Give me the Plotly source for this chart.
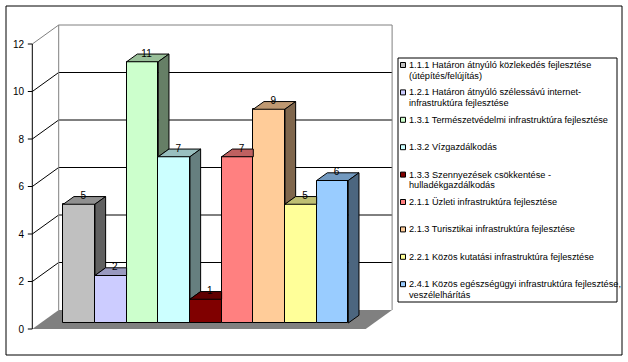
import plotly.graph_objects as go

# ---------------- data ----------------
categories = [
    ["1.1.1 Határon átnyúló közlekedés fejlesztése", "(útépítés/felújítás)"],
    ["1.2.1 Határon átnyúló szélessávú internet-", "infrastruktúra fejlesztése"],
    ["1.3.1 Természetvédelmi infrastruktúra fejlesztése"],
    ["1.3.2 Vízgazdálkodás"],
    ["1.3.3 Szennyezések csökkentése -", "hulladékgazdálkodás"],
    ["2.1.1 Üzleti infrastruktúra fejlesztése"],
    ["2.1.3 Turisztikai infrastruktúra fejlesztése"],
    ["2.2.1 Közös kutatási infrastruktúra fejlesztése"],
    ["2.4.1 Közös egészségügyi infrastruktúra fejlesztése,", "veszélelhárítás"],
]
values = [5, 2, 11, 7, 1, 7, 9, 5, 6]
colors = ["#C0C0C0", "#CCCCFF", "#CCFFCC", "#CCFFFF", "#800000",
          "#FF8080", "#FFCC99", "#FFFF99", "#99CCFF"]
y_ticks = [0, 2, 4, 6, 8, 10, 12]

# ---------------- geometry (pixels) ----------------
FIG_W, FIG_H = 628, 362
ML, MR, MT, MB = 26, 234, 20, 29
PW, PH = FIG_W - ML - MR, FIG_H - MT - MB
PX_X, PX_Y = 31.67, 23.75          # px per bar slot, px per value unit
X0_PX, Y0_PX = 79.1, 323.0         # screen position of bar 0 centre / value 0
DX, DY = 26.4 / PX_X, 19.0 / PX_Y  # oblique projection of unit depth
FRONT_D, BAR_D, BACK_D = -0.316, 0.405, 0.684
FLOOR_X = (32.3 - X0_PX) / PX_X - FRONT_D * DX
FLOOR_W = (365.7 - 32.3) / PX_X

xr = [(ML - X0_PX) / PX_X, (ML + PW - X0_PX) / PX_X]
yr = [(Y0_PX - (MT + PH)) / PX_Y, (Y0_PX - MT) / PX_Y]


def P(x, y, d):
    return (x + d * DX, y + d * DY)


def shade(hx, f):
    r, g, b = int(hx[1:3], 16), int(hx[3:5], 16), int(hx[5:7], 16)
    return "rgb(%d,%d,%d)" % (r * f, g * f, b * f)


def px2paper(px, py):
    return (px - ML) / PW, (MT + PH - py) / PH


fig = go.Figure()
shapes = []


def seg(a, b, color, width=1, layer="below"):
    shapes.append(dict(type="line", xref="x", yref="y", x0=a[0], y0=a[1], x1=b[0], y1=b[1],
                       line=dict(color=color, width=width), layer=layer))


def poly(pts, fill, line=None, layer="below"):
    path = "M" + " L".join("%f,%f" % p for p in pts) + " Z"
    shapes.append(dict(type="path", xref="x", yref="y", path=path, fillcolor=fill,
                       line=dict(color=line or fill, width=1 if line else 0), layer=layer))


top_v = y_ticks[-1]
# back wall
poly([P(FLOOR_X, 0, BACK_D), P(FLOOR_X + FLOOR_W, 0, BACK_D),
      P(FLOOR_X + FLOOR_W, top_v, BACK_D), P(FLOOR_X, top_v, BACK_D)], "white")
for v in y_ticks[1:-1]:
    seg(P(FLOOR_X, v, BACK_D), P(FLOOR_X + FLOOR_W, v, BACK_D), "black")
    seg(P(FLOOR_X, v, FRONT_D), P(FLOOR_X, v, BACK_D), "black")
seg(P(FLOOR_X, top_v, FRONT_D), P(FLOOR_X, top_v, BACK_D), "#808080")
seg(P(FLOOR_X, 0, BACK_D), P(FLOOR_X, top_v, BACK_D), "#808080")
seg(P(FLOOR_X, top_v, BACK_D), P(FLOOR_X + FLOOR_W, top_v, BACK_D), "#808080")
seg(P(FLOOR_X + FLOOR_W, top_v, BACK_D), P(FLOOR_X + FLOOR_W, 0, BACK_D), "#808080")
# floor
poly([P(FLOOR_X, 0, FRONT_D), P(FLOOR_X + FLOOR_W, 0, FRONT_D),
      P(FLOOR_X + FLOOR_W, 0, BACK_D), P(FLOOR_X, 0, BACK_D)], "#808080")
# front value axis with tick marks
seg(P(FLOOR_X, 0, FRONT_D), P(FLOOR_X, top_v, FRONT_D), "black")
for v in y_ticks:
    a = P(FLOOR_X, v, FRONT_D)
    seg((a[0] - 4.5 / PX_X, a[1]), a, "black")

# bars (front faces)
fig.add_trace(go.Bar(
    x=list(range(len(values))), y=values, width=1,
    marker=dict(color=colors, line=dict(color="black", width=1)),
    showlegend=False, hoverinfo="skip"))

# tops and sides
n = len(values)
for i, v in enumerate(values):
    nxt = values[i + 1] if i + 1 < n else 0
    a = i + 0.5
    if nxt > v:
        tp = [P(i - 0.5, v, 0), P(a, v, 0), (a, v + BAR_D * DY), P(i - 0.5, v, BAR_D)]
    else:
        tp = [P(i - 0.5, v, 0), P(a, v, 0), P(a, v, BAR_D), P(i - 0.5, v, BAR_D)]
    fig.add_trace(go.Scatter(x=[p[0] for p in tp] + [tp[0][0]], y=[p[1] for p in tp] + [tp[0][1]],
                             mode="lines", fill="toself", fillcolor=shade(colors[i], 0.75),
                             line=dict(color="black", width=1), showlegend=False, hoverinfo="skip"))
    if v > nxt:
        lo = nxt
        sp = [P(a, lo, 0), P(a, lo, BAR_D), P(a, v, BAR_D), P(a, v, 0)]
        fig.add_trace(go.Scatter(x=[p[0] for p in sp] + [sp[0][0]], y=[p[1] for p in sp] + [sp[0][1]],
                                 mode="lines", fill="toself", fillcolor=shade(colors[i], 0.5),
                                 line=dict(color="black", width=1), showlegend=False, hoverinfo="skip"))

# value labels
fig.add_trace(go.Scatter(
    x=[i + 0.13 for i in range(n)], y=[v + BAR_D * DY for v in values],
    mode="text", text=[str(v) for v in values], textposition="middle center",
    textfont=dict(family="Liberation Sans, Arial", size=10, color="black"),
    showlegend=False, hoverinfo="skip", cliponaxis=False))

# outer border
bx0, by0 = px2paper(6, 355)
bx1, by1 = px2paper(622, 6)
shapes.append(dict(type="rect", xref="paper", yref="paper", x0=bx0, y0=by0, x1=bx1, y1=by1,
                   line=dict(color="black", width=1), layer="above"))

# legend (manual, Excel style)
lx0, ly0 = px2paper(398, 302)
lx1, ly1 = px2paper(617, 58)
shapes.append(dict(type="rect", xref="paper", yref="paper", x0=lx0, y0=ly0, x1=lx1, y1=ly1,
                   line=dict(color="black", width=1), fillcolor="white", layer="above"))
annotations = []
first_y, step = 65.0, 27.4
for k, lines in enumerate(categories):
    cy = first_y + k * step
    sx0, sy0 = px2paper(400.5, cy + 2.5)
    sx1, sy1 = px2paper(405.5, cy - 2.5)
    shapes.append(dict(type="rect", xref="paper", yref="paper", x0=sx0, y0=sy0, x1=sx1, y1=sy1,
                       fillcolor=colors[k], line=dict(color="black", width=1), layer="above"))
    for j, t in enumerate(lines):
        tx, ty = px2paper(407, cy + j * 10.5)
        annotations.append(dict(xref="paper", yref="paper", x=tx, y=ty, text=t, showarrow=False,
                                xanchor="left", yanchor="middle",
                                font=dict(family="Liberation Sans, Arial", size=9.2, color="black")))

fig.update_layout(
    width=FIG_W, height=FIG_H,
    margin=dict(l=ML, r=MR, t=MT, b=MB, pad=0),
    paper_bgcolor="white", plot_bgcolor="rgba(0,0,0,0)",
    shapes=shapes, annotations=annotations,
    hovermode=False, bargap=0,
    xaxis=dict(range=xr, visible=False, fixedrange=True),
    yaxis=dict(range=yr, showgrid=False, zeroline=False, showline=False,
               tickvals=[v + FRONT_D * DY for v in y_ticks], ticktext=[str(v) for v in y_ticks],
               ticks="", ticklabelstandoff=1,
               tickfont=dict(family="Liberation Sans, Arial", size=10, color="black"),
               fixedrange=True),
)

fig.write_html("out.html", config={"displayModeBar": False},
               post_script="document.body.style.margin='0';document.body.style.overflow='hidden';")
